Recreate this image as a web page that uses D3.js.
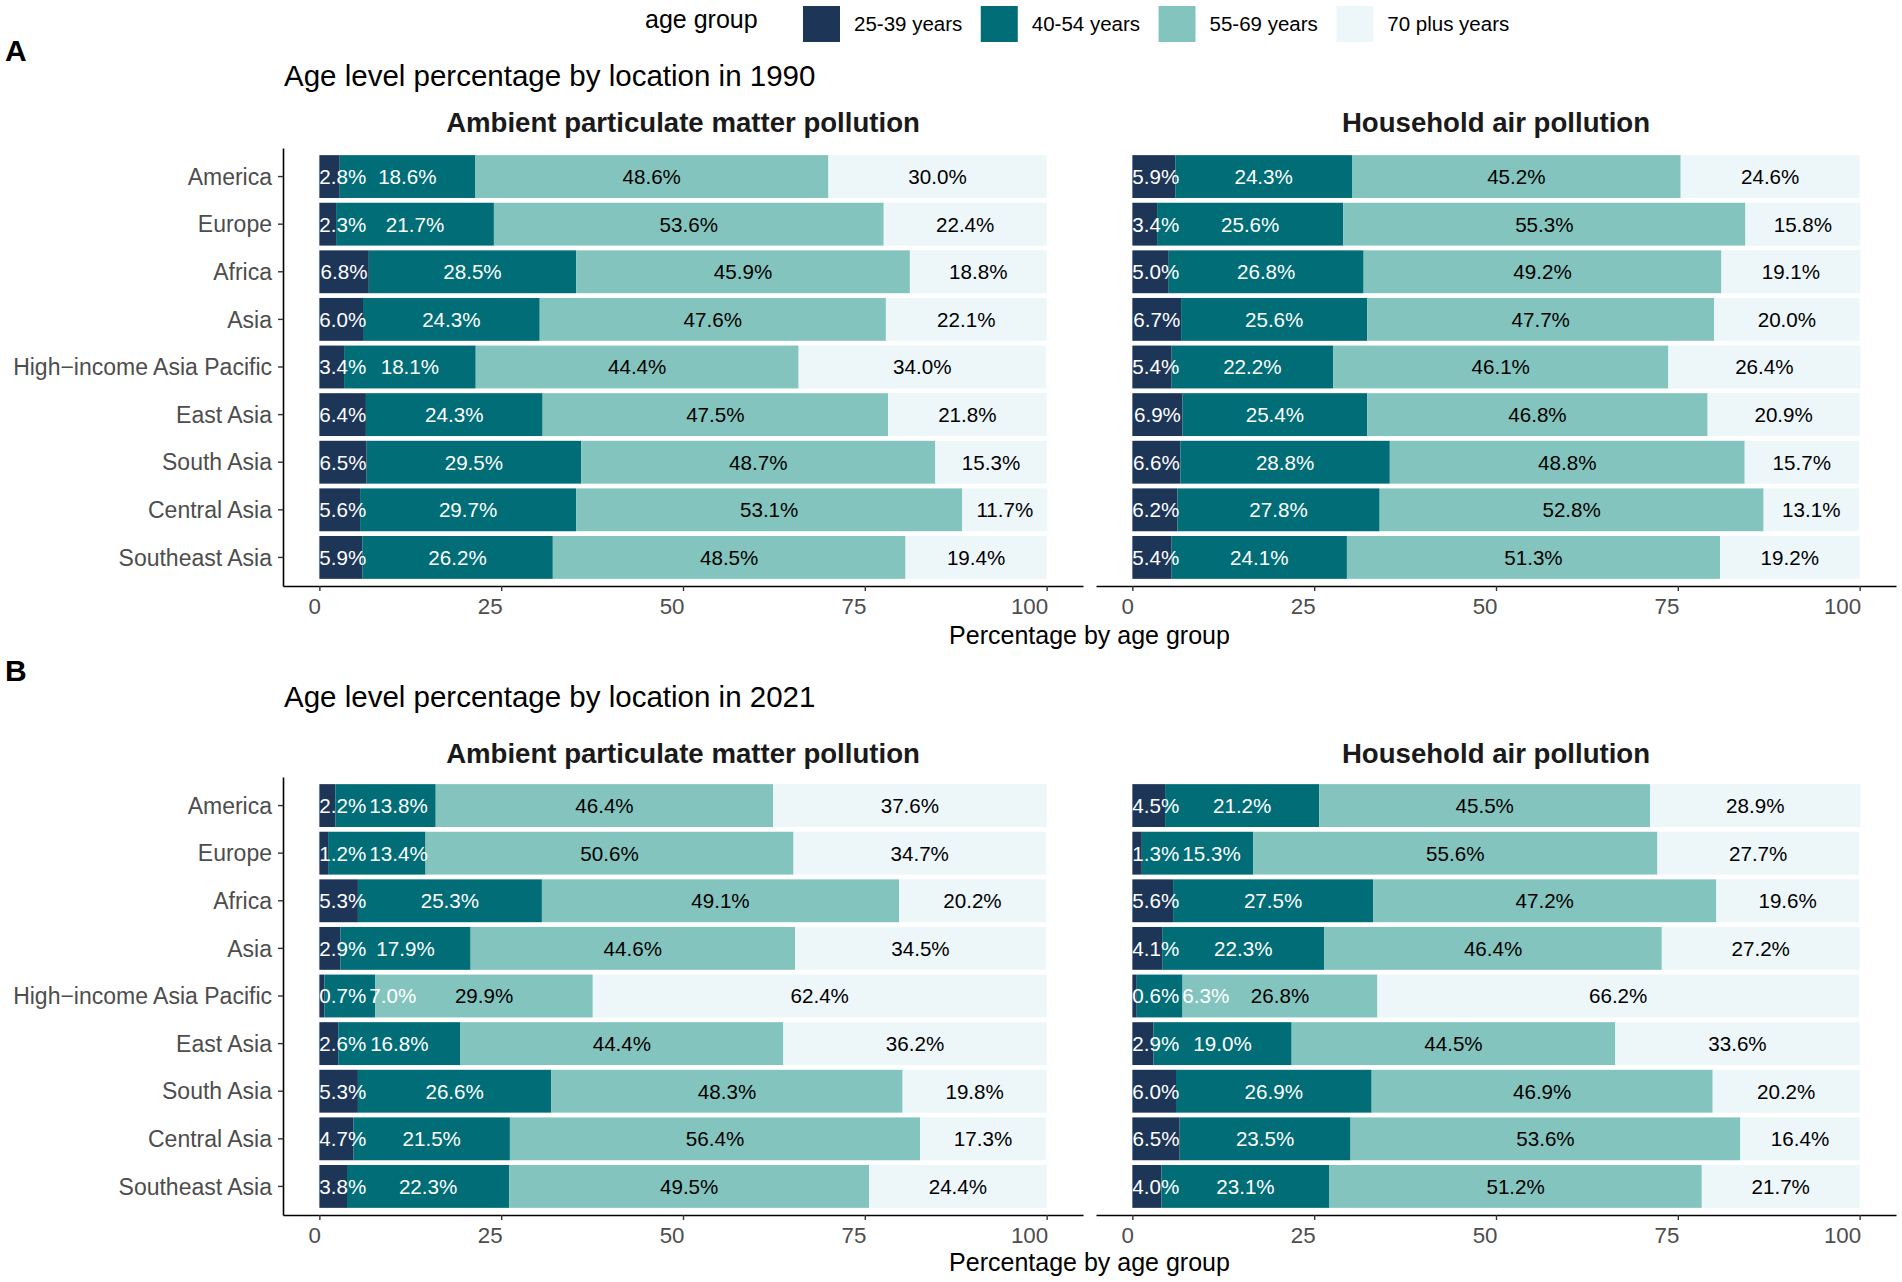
<!DOCTYPE html>
<html><head><meta charset="utf-8">
<script src="https://cdn.jsdelivr.net/npm/d3@7"></script>
<style>
body{margin:0;background:#fff}
svg{display:block}
text{font-family:"Liberation Sans",Arial,Helvetica,sans-serif}
</style>
</head><body>
<svg id="chart" width="1902" height="1282"></svg>
<script>
// ---------- data ----------
const locations = ["America","Europe","Africa","Asia","High\u2212income Asia Pacific","East Asia","South Asia","Central Asia","Southeast Asia"];
const ageGroups = ["25-39 years","40-54 years","55-69 years","70 plus years"];
const ageColors = ["#1d3557","#006d77","#83c5be","#edf6f9"];
const labelColors = ["#ffffff","#ffffff","#000000","#000000"];
const facets = ["Ambient particulate matter pollution","Household air pollution"];
const years = ["1990","2021"];
const tags = ["A","B"];
const xTicks = [0,25,50,75,100];

// rows follow `locations`, columns follow `ageGroups`
const ambient1990 = [
  [2.8,18.6,48.6,30.0],[2.3,21.7,53.6,22.4],[6.8,28.5,45.9,18.8],[6.0,24.3,47.6,22.1],
  [3.4,18.1,44.4,34.0],[6.4,24.3,47.5,21.8],[6.5,29.5,48.7,15.3],[5.6,29.7,53.1,11.7],[5.9,26.2,48.5,19.4]
];
const household1990 = [
  [5.9,24.3,45.2,24.6],[3.4,25.6,55.3,15.8],[5.0,26.8,49.2,19.1],[6.7,25.6,47.7,20.0],
  [5.4,22.2,46.1,26.4],[6.9,25.4,46.8,20.9],[6.6,28.8,48.8,15.7],[6.2,27.8,52.8,13.1],[5.4,24.1,51.3,19.2]
];
const ambient2021 = [
  [2.2,13.8,46.4,37.6],[1.2,13.4,50.6,34.7],[5.3,25.3,49.1,20.2],[2.9,17.9,44.6,34.5],
  [0.7,7.0,29.9,62.4],[2.6,16.8,44.4,36.2],[5.3,26.6,48.3,19.8],[4.7,21.5,56.4,17.3],[3.8,22.3,49.5,24.4]
];
const household2021 = [
  [4.5,21.2,45.5,28.9],[1.3,15.3,55.6,27.7],[5.6,27.5,47.2,19.6],[4.1,22.3,46.4,27.2],
  [0.6,6.3,26.8,66.2],[2.9,19.0,44.5,33.6],[6.0,26.9,46.9,20.2],[6.5,23.5,53.6,16.4],[4.0,23.1,51.2,21.7]
];
const blocks = [[ambient1990, household1990],[ambient2021, household2021]];

// ---------- layout ----------
const svg = d3.select("#chart");
const panelX = [[283,1083],[1096,1896]];
// per block vertical anchors
const L = [
  {tag:61, title:86, strip:132, top:148, bottom:586, axTitle:644},
  {tag:681, title:707, strip:763, top:777, bottom:1215, axTitle:1271}
];
const axisCol = "#4d4d4d";
const labelPad = 3;

// legend
const leg = svg.append("g");
leg.append("text").attr("x",645).attr("y",28).attr("font-size",25).attr("fill","#000").text("age group");
let lx = 803;
ageGroups.forEach((g,i)=>{
  leg.append("rect").attr("x",lx).attr("y",6).attr("width",37).attr("height",36).attr("fill",ageColors[i]);
  const t = leg.append("text").attr("x",lx+51).attr("y",31).attr("font-size",20.5).attr("fill","#000").text(g);
  lx += 51 + t.node().getComputedTextLength() + 18.5;
});

blocks.forEach((panels,b)=>{
  const P = L[b];
  const g = svg.append("g");
  g.append("text").attr("x",5).attr("y",P.tag).attr("font-size",30).attr("font-weight","bold").attr("fill","#000").text(tags[b]);
  g.append("text").attr("x",284).attr("y",P.title).attr("font-size",29.5).attr("fill","#000")
    .text("Age level percentage by location in " + years[b]);

  panels.forEach((data,f)=>{
    const x = d3.scaleLinear().domain([-5,105]).range(panelX[f]);
    const y = d3.scaleBand().domain(locations).range([P.top,P.bottom]).paddingInner(0.1).paddingOuter(0.15);
    const pg = g.append("g");

    // strip title
    pg.append("text").attr("x",(panelX[f][0]+panelX[f][1])/2).attr("y",P.strip)
      .attr("text-anchor","middle").attr("font-size",27.6).attr("font-weight","bold").attr("fill","#1a1a1a")
      .text(facets[f]);

    // bars
    data.forEach((row,i)=>{
      const loc = locations[i];
      let cum = 0;
      const segs = row.map((v,k)=>{ const s = {k, v, start:cum, end:cum+v}; cum += v; return s; });
      pg.selectAll(null).data(segs).enter().append("rect")
        .attr("x",d=>x(d.start)).attr("width",d=>x(d.end)-x(d.start))
        .attr("y",y(loc)).attr("height",y.bandwidth())
        .attr("fill",d=>ageColors[d.k]);
      // labels: centred, first clamped at bar start, later ones pushed right if overlapping
      let prevRight = -Infinity;
      segs.forEach(s=>{
        const t = pg.append("text").attr("font-size",20.6).attr("fill",labelColors[s.k])
          .attr("y",y(loc)+y.bandwidth()/2).attr("dy","0.36em").attr("text-anchor","middle")
          .text(s.v.toFixed(1)+"%");
        const w = t.node().getComputedTextLength();
        let cx = x(s.start + s.v/2);
        if (cx - w/2 < x(0)) cx = x(0) + w/2;
        if (cx - w/2 < prevRight + labelPad) cx = prevRight + labelPad + w/2;
        prevRight = cx + w/2;
        t.attr("x",cx);
      });
    });

    // x axis
    const xa = pg.append("g").attr("transform",`translate(0,${P.bottom})`)
      .call(d3.axisBottom(x).tickValues(xTicks).tickSize(5).tickSizeOuter(0).tickFormat(d3.format("d")));
    xa.select(".domain").attr("stroke","#000").attr("stroke-width",1.6);
    xa.selectAll(".tick line").attr("stroke","#333").attr("stroke-width",1.4);
    xa.selectAll(".tick text").attr("y",28).attr("dy",0).attr("text-anchor","end").attr("x",1)
      .attr("font-size",22.3).attr("fill",axisCol).attr("font-family","Liberation Sans, Arial, sans-serif");

    // y axis only on left panel
    if (f===0){
      const ya = pg.append("g").attr("transform",`translate(${panelX[0][0]},0)`)
        .call(d3.axisLeft(y).tickSize(5).tickSizeOuter(0).tickPadding(6));
      ya.select(".domain").attr("stroke","#000").attr("stroke-width",1.6);
      ya.selectAll(".tick line").attr("stroke","#333").attr("stroke-width",1.4);
      ya.selectAll(".tick text").attr("font-size",23).attr("fill",axisCol).attr("dy","0.36em")
        .attr("font-family","Liberation Sans, Arial, sans-serif");
    }
  });

  g.append("text").attr("x",(panelX[0][0]+panelX[1][1])/2).attr("y",P.axTitle)
    .attr("text-anchor","middle").attr("font-size",25).attr("fill","#000").text("Percentage by age group");
});
</script>
</body></html>
